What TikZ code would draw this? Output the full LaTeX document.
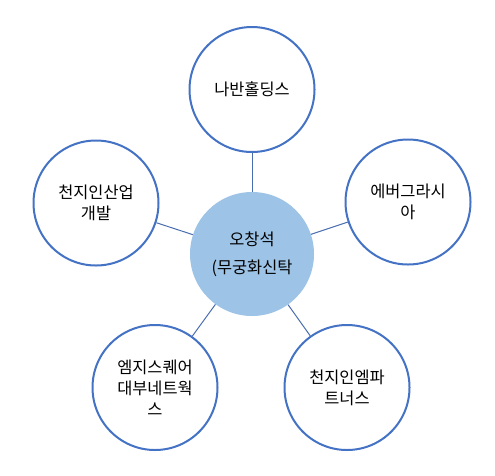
\documentclass[tikz,border=0pt]{standalone}
\usepackage{fontspec}
\newfontfamily\krfont{Noto Sans CJK KR}
\definecolor{ringblue}{HTML}{4472C4}
\definecolor{linkblue}{HTML}{4A6DB0}
\definecolor{hubfill}{HTML}{9DC3E6}
\begin{document}
\begin{tikzpicture}[x=0.75pt,y=-0.75pt,
  outer/.style={circle,draw=ringblue,line width=1.5pt,fill=white,minimum size=93.75pt,inner sep=0pt,align=center,text=black,font=\krfont\fontsize{12.3}{15.8}\selectfont},
  hub/.style={circle,fill=hubfill,minimum size=93pt,inner sep=0pt,align=center,text=black,font=\krfont\fontsize{12.3}{21}\selectfont},
  link/.style={draw=linkblue,line width=0.75pt}]
\useasboundingbox (0,0) rectangle (495,475);
\node[hub] (c) at (252,254) {오창석\\(무궁화신탁};
\node[outer] (n1) at (252,89.5) {나반홀딩스};
\node[outer] (n2) at (96,203) {천지인산업\\개발};
\node[outer] (n3) at (408,202) {에버그라시\\아};
\node[outer] (n4) at (155,387.5) {엠지스퀘어\\대부네트웍\\스};
\node[outer] (n5) at (347,387.5) {천지인엠파\\트너스};
\draw[link] (c) -- (n1);
\draw[link] (c) -- (n2);
\draw[link] (c) -- (n3);
\draw[link] (c) -- (n4);
\draw[link] (c) -- (n5);
\end{tikzpicture}
\end{document}
